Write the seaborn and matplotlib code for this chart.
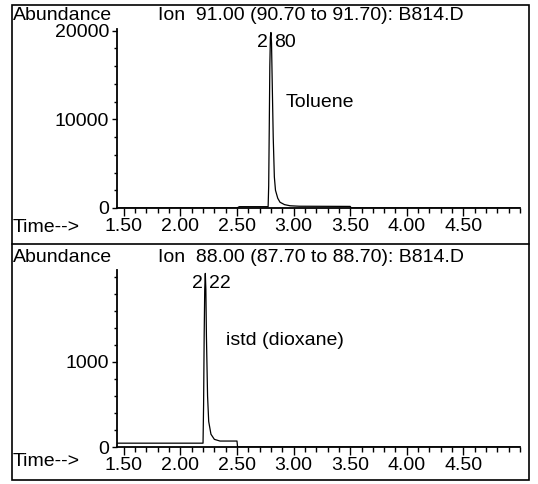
import matplotlib
matplotlib.use("Agg")
import matplotlib.pyplot as plt
from matplotlib.patches import Rectangle
from matplotlib.lines import Line2D
from matplotlib.ticker import MultipleLocator, FixedLocator, FormatStrFormatter
import seaborn as sns
import pandas as pd

# ---------------- data ----------------
top_title = "Ion  91.00 (90.70 to 91.70): B814.D"
bot_title = "Ion  88.00 (87.70 to 88.70): B814.D"
y_label = "Abundance"
x_label = "Time-->"

tol_time = [1.44, 2.50, 2.52, 2.775, 2.78, 2.785, 2.79, 2.795, 2.80, 2.805, 2.81, 2.82,
            2.83, 2.84, 2.86, 2.88, 2.92, 2.97, 3.05, 3.50, 3.51, 5.00]
tol_abund = [0, 0, 150, 150, 2500, 9000, 16000, 19300, 19800, 18600, 15000, 8000,
             3500, 2000, 1100, 650, 380, 250, 200, 180, 0, 0]
tol_peak_rt = 2.80
tol_peak_h = 19800
tol_name = "Toluene"

dx_time = [1.44, 2.200, 2.205, 2.21, 2.215, 2.22, 2.225, 2.23, 2.24, 2.25, 2.27,
           2.30, 2.35, 2.50, 2.505, 5.00]
dx_abund = [45, 45, 500, 1300, 1850, 2040, 1850, 1300, 600, 300, 150,
            90, 70, 70, 0, 0]
dx_peak_rt = 2.22
dx_peak_h = 2040
dx_name = "istd (dioxane)"

x_major = [1.5, 2.0, 2.5, 3.0, 3.5, 4.0, 4.5]
top_y_major = [0, 10000, 20000]
bot_y_major = [0, 1000]

# ---------------- style ----------------
sns.set_theme(style="white")
plt.rcParams["font.family"] = ["Liberation Sans", "DejaVu Sans"]
FS = 14

W, H = 538, 484
fig = plt.figure(figsize=(W / 100, H / 100), dpi=100)
fig.patch.set_facecolor("white")


def fx(px):
    return px / W


def fy(py):
    return 1 - py / H


ax_left, ax_right = 117, 520


def make_axes(top_px, bottom_px):
    return fig.add_axes([fx(ax_left), fy(bottom_px), fx(ax_right - ax_left),
                         (bottom_px - top_px) / H])


ax1 = make_axes(29, 208)
ax2 = make_axes(270, 447)

traces = [
    (ax1, tol_time, tol_abund, (0, 20200), top_y_major, 2000, tol_peak_rt, tol_peak_h,
     "2", "80", tol_name, (2.93, 11900)),
    (ax2, dx_time, dx_abund, (0, 2080), bot_y_major, 200, dx_peak_rt, dx_peak_h,
     "2", "22", dx_name, (2.40, 1250)),
]

for ax, t, a, ylim, ymaj, ymin_step, rt, ph, l1, l2, name, npos in traces:
    df = pd.DataFrame({"time": t, "abund": a})
    sns.lineplot(data=df, x="time", y="abund", ax=ax, color="black",
                 linewidth=0.9, sort=False, estimator=None)
    ax.set_xlim(1.44, 5.0)
    ax.set_ylim(*ylim)
    ax.set_xlabel("")
    ax.set_ylabel("")
    ax.set_facecolor("white")
    for s in ["top", "right"]:
        ax.spines[s].set_visible(False)
    for s in ["left", "bottom"]:
        ax.spines[s].set_color("black")
        ax.spines[s].set_linewidth(1.3)
    ax.xaxis.set_major_locator(FixedLocator(x_major))
    ax.xaxis.set_minor_locator(MultipleLocator(0.1))
    ax.xaxis.set_major_formatter(FormatStrFormatter("%.2f"))
    ax.yaxis.set_major_locator(FixedLocator(ymaj))
    ax.yaxis.set_minor_locator(MultipleLocator(ymin_step))
    ax.tick_params(axis="x", which="major", direction="out", length=6, width=1,
                   color="black", labelsize=FS, pad=1.5, bottom=True)
    ax.tick_params(axis="x", which="minor", direction="out", length=3.5, width=1,
                   color="black", bottom=True)
    ax.tick_params(axis="y", which="major", direction="out", length=3.5, width=1,
                   color="black", labelsize=FS, pad=2, left=True)
    ax.tick_params(axis="y", which="minor", direction="out", length=2, width=1,
                   color="black", left=True)
    for lab in ax.get_xticklabels() + ax.get_yticklabels():
        lab.set_color("black")
    # peak retention-time label, split by the peak line
    ax.annotate(l1, xy=(rt, ph), xytext=(-2, -1), textcoords="offset points",
                ha="right", va="top", fontsize=FS, color="black")
    ax.annotate(l2, xy=(rt, ph), xytext=(2.5, -1), textcoords="offset points",
                ha="left", va="top", fontsize=FS, color="black")
    ax.text(npos[0], npos[1], name, ha="left", va="center", fontsize=FS, color="black")

# header and footer texts
for ytxt, title in [(16, top_title), (257, bot_title)]:
    fig.text(fx(13), fy(ytxt), y_label, ha="left", va="center", fontsize=FS, color="black")
    fig.text(fx(158), fy(ytxt), title, ha="left", va="center", fontsize=FS, color="black")
for ytxt in [227, 462]:
    fig.text(fx(13), fy(ytxt), x_label, ha="left", va="center", fontsize=FS, color="black")

# outer frame and divider
fig.add_artist(Rectangle((fx(12), fy(480)), fx(529 - 12), (480 - 5) / H,
                         transform=fig.transFigure, fill=False, edgecolor="black",
                         linewidth=1.2))
fig.add_artist(Line2D([fx(12), fx(529)], [fy(244), fy(244)], transform=fig.transFigure,
                      color="black", linewidth=1.2))

fig.savefig("out.png", dpi=100, facecolor="white")
